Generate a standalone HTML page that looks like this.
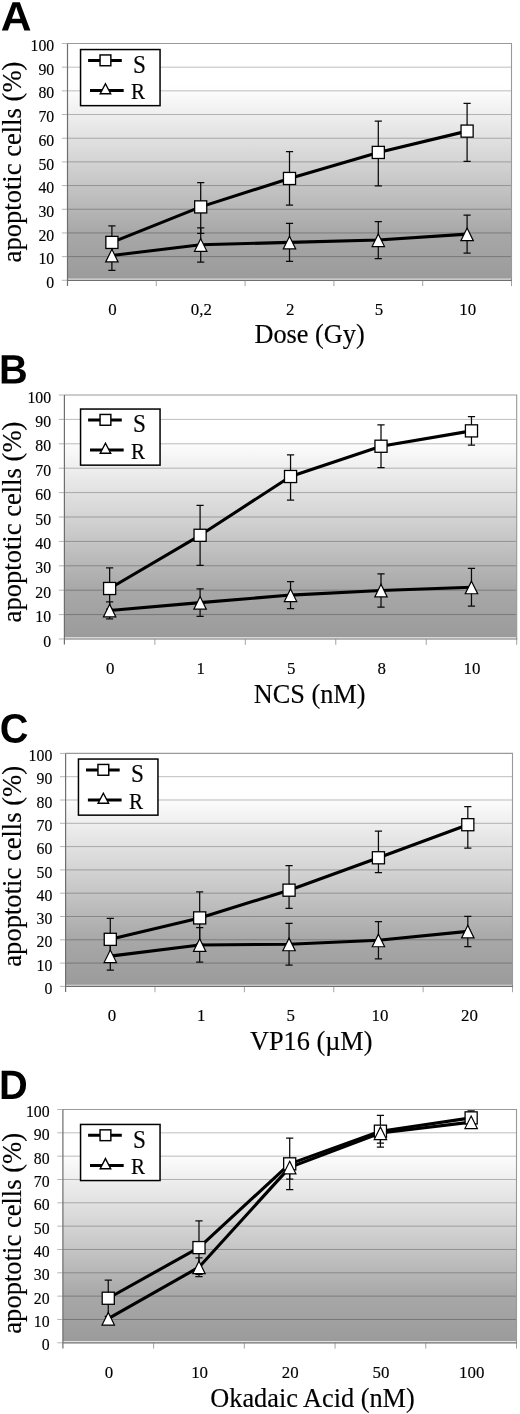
<!DOCTYPE html>
<html lang="en"><head><meta charset="utf-8"><title>Figure</title>
<style>html,body{margin:0;padding:0;background:#fff}svg{display:block}.t{font-family:'Liberation Serif', 'Times New Roman', serif;fill:#000;stroke:#000;stroke-width:0.15px}.b{font-family:'Liberation Sans', Arial, sans-serif;font-weight:bold;fill:#000}</style></head><body>
<svg width="520" height="1414" viewBox="0 0 520 1414">
<defs><linearGradient id="bg" x1="0" y1="0" x2="0" y2="1"><stop offset="0" stop-color="#ffffff"/><stop offset="0.18" stop-color="#ffffff"/><stop offset="0.5" stop-color="#d4d4d4"/><stop offset="0.8" stop-color="#a8a8a8"/><stop offset="1" stop-color="#9b9b9b"/></linearGradient></defs>
<rect width="520" height="1414" fill="#fff"/>
<g>
<text class="b" font-size="41" transform="translate(0.8 30.5) rotate(0.03) scale(1.04 1)">A</text>
<rect x="67.5" y="43.5" width="444" height="235.3" fill="url(#bg)"/>
<rect x="67.5" y="278.8" width="444" height="1.0" fill="#e4e4e4"/>
<line x1="67.5" y1="256.62" x2="511.5" y2="256.62" stroke="#000" stroke-opacity="0.26" stroke-width="1"/>
<line x1="67.5" y1="232.94" x2="511.5" y2="232.94" stroke="#000" stroke-opacity="0.26" stroke-width="1"/>
<line x1="67.5" y1="209.26" x2="511.5" y2="209.26" stroke="#000" stroke-opacity="0.26" stroke-width="1"/>
<line x1="67.5" y1="185.58" x2="511.5" y2="185.58" stroke="#000" stroke-opacity="0.26" stroke-width="1"/>
<line x1="67.5" y1="161.9" x2="511.5" y2="161.9" stroke="#000" stroke-opacity="0.26" stroke-width="1"/>
<line x1="67.5" y1="138.22" x2="511.5" y2="138.22" stroke="#000" stroke-opacity="0.26" stroke-width="1"/>
<line x1="67.5" y1="114.54" x2="511.5" y2="114.54" stroke="#000" stroke-opacity="0.26" stroke-width="1"/>
<line x1="67.5" y1="90.86" x2="511.5" y2="90.86" stroke="#000" stroke-opacity="0.26" stroke-width="1"/>
<line x1="67.5" y1="67.18" x2="511.5" y2="67.18" stroke="#000" stroke-opacity="0.26" stroke-width="1"/>
<path d="M67.5 43.5H511.5V280.3" fill="none" stroke="#999999" stroke-width="1.1"/>
<path d="M67.5 43.5V285.9M67.5 280.3H512" fill="none" stroke="#6e6e6e" stroke-width="1.2"/>
<line x1="61.9" y1="280.3" x2="67.5" y2="280.3" stroke="#838383" stroke-opacity="0.6" stroke-width="1"/>
<text class="t" font-size="17" text-anchor="end" transform="translate(54.2 287.9) scale(0.93 1)">0</text>
<line x1="61.9" y1="256.62" x2="67.5" y2="256.62" stroke="#838383" stroke-opacity="0.6" stroke-width="1"/>
<text class="t" font-size="17" text-anchor="end" transform="translate(54.2 264.22) scale(0.93 1)">10</text>
<line x1="61.9" y1="232.94" x2="67.5" y2="232.94" stroke="#838383" stroke-opacity="0.6" stroke-width="1"/>
<text class="t" font-size="17" text-anchor="end" transform="translate(54.2 240.54) scale(0.93 1)">20</text>
<line x1="61.9" y1="209.26" x2="67.5" y2="209.26" stroke="#838383" stroke-opacity="0.6" stroke-width="1"/>
<text class="t" font-size="17" text-anchor="end" transform="translate(54.2 216.86) scale(0.93 1)">30</text>
<line x1="61.9" y1="185.58" x2="67.5" y2="185.58" stroke="#838383" stroke-opacity="0.6" stroke-width="1"/>
<text class="t" font-size="17" text-anchor="end" transform="translate(54.2 193.18) scale(0.93 1)">40</text>
<line x1="61.9" y1="161.9" x2="67.5" y2="161.9" stroke="#838383" stroke-opacity="0.6" stroke-width="1"/>
<text class="t" font-size="17" text-anchor="end" transform="translate(54.2 169.5) scale(0.93 1)">50</text>
<line x1="61.9" y1="138.22" x2="67.5" y2="138.22" stroke="#838383" stroke-opacity="0.6" stroke-width="1"/>
<text class="t" font-size="17" text-anchor="end" transform="translate(54.2 145.82) scale(0.93 1)">60</text>
<line x1="61.9" y1="114.54" x2="67.5" y2="114.54" stroke="#838383" stroke-opacity="0.6" stroke-width="1"/>
<text class="t" font-size="17" text-anchor="end" transform="translate(54.2 122.14) scale(0.93 1)">70</text>
<line x1="61.9" y1="90.86" x2="67.5" y2="90.86" stroke="#838383" stroke-opacity="0.6" stroke-width="1"/>
<text class="t" font-size="17" text-anchor="end" transform="translate(54.2 98.46) scale(0.93 1)">80</text>
<line x1="61.9" y1="67.18" x2="67.5" y2="67.18" stroke="#838383" stroke-opacity="0.6" stroke-width="1"/>
<text class="t" font-size="17" text-anchor="end" transform="translate(54.2 74.78) scale(0.93 1)">90</text>
<line x1="61.9" y1="43.5" x2="67.5" y2="43.5" stroke="#838383" stroke-opacity="0.6" stroke-width="1"/>
<text class="t" font-size="17" text-anchor="end" transform="translate(54.2 51.1) scale(0.93 1)">100</text>
<line x1="156.3" y1="280.3" x2="156.3" y2="286.1" stroke="#838383" stroke-opacity="0.75" stroke-width="1"/>
<line x1="245.1" y1="280.3" x2="245.1" y2="286.1" stroke="#838383" stroke-opacity="0.75" stroke-width="1"/>
<line x1="333.9" y1="280.3" x2="333.9" y2="286.1" stroke="#838383" stroke-opacity="0.75" stroke-width="1"/>
<line x1="422.7" y1="280.3" x2="422.7" y2="286.1" stroke="#838383" stroke-opacity="0.75" stroke-width="1"/>
<line x1="511.5" y1="280.3" x2="511.5" y2="286.1" stroke="#838383" stroke-opacity="0.75" stroke-width="1"/>
<text class="t" font-size="17.6" text-anchor="middle" transform="translate(112.5 315) scale(0.96 1)">0</text>
<text class="t" font-size="17.6" text-anchor="middle" transform="translate(201.3 315) scale(0.96 1)">0,2</text>
<text class="t" font-size="17.6" text-anchor="middle" transform="translate(290.1 315) scale(0.96 1)">2</text>
<text class="t" font-size="17.6" text-anchor="middle" transform="translate(378.9 315) scale(0.96 1)">5</text>
<text class="t" font-size="17.6" text-anchor="middle" transform="translate(467.7 315) scale(0.96 1)">10</text>
<text class="t" x="309.6" y="342.5" font-size="26.3" text-anchor="middle">Dose (Gy)</text>
<text class="t" font-size="27.8" text-anchor="middle" transform="translate(21.3 162) rotate(-90) scale(0.957 1)">apoptotic cells (%)</text>
<path d="M111.9 225.84V258.99M108.3 225.84H115.5M108.3 258.99H115.5" stroke="#0a0a0a" stroke-width="1.25" fill="none"/>
<path d="M200.7 182.5V233.41M197.1 182.5H204.3M197.1 233.41H204.3" stroke="#0a0a0a" stroke-width="1.25" fill="none"/>
<path d="M289.5 151.72V205.23M285.9 151.72H293.1M285.9 205.23H293.1" stroke="#0a0a0a" stroke-width="1.25" fill="none"/>
<path d="M378.3 121.17V185.82M374.7 121.17H381.9M374.7 185.82H381.9" stroke="#0a0a0a" stroke-width="1.25" fill="none"/>
<path d="M467.1 103.41V161.43M463.5 103.41H470.7M463.5 161.43H470.7" stroke="#0a0a0a" stroke-width="1.25" fill="none"/>
<path d="M111.9 240.52V270.35M108.3 240.52H115.5M108.3 270.35H115.5" stroke="#0a0a0a" stroke-width="1.25" fill="none"/>
<path d="M200.7 227.97V262.18M197.1 227.97H204.3M197.1 262.18H204.3" stroke="#0a0a0a" stroke-width="1.25" fill="none"/>
<path d="M289.5 223.47V261.36M285.9 223.47H293.1M285.9 261.36H293.1" stroke="#0a0a0a" stroke-width="1.25" fill="none"/>
<path d="M378.3 221.57V258.51M374.7 221.57H381.9M374.7 258.51H381.9" stroke="#0a0a0a" stroke-width="1.25" fill="none"/>
<path d="M467.1 215.18V253.07M463.5 215.18H470.7M463.5 253.07H470.7" stroke="#0a0a0a" stroke-width="1.25" fill="none"/>
<polyline points="111.9,242.41 200.7,206.89 289.5,178.48 378.3,152.43 467.1,131.12" fill="none" stroke="#000" stroke-width="3.1" stroke-linejoin="round"/>
<polyline points="111.9,255.44 200.7,244.78 289.5,242.41 378.3,240.04 467.1,234.12" fill="none" stroke="#000" stroke-width="3.1" stroke-linejoin="round"/>
<rect x="105.85" y="236.36" width="12.1" height="12.1" fill="#fff" stroke="#000" stroke-width="1.3"/>
<rect x="194.65" y="200.84" width="12.1" height="12.1" fill="#fff" stroke="#000" stroke-width="1.3"/>
<rect x="283.45" y="172.43" width="12.1" height="12.1" fill="#fff" stroke="#000" stroke-width="1.3"/>
<rect x="372.25" y="146.38" width="12.1" height="12.1" fill="#fff" stroke="#000" stroke-width="1.3"/>
<rect x="461.05" y="125.07" width="12.1" height="12.1" fill="#fff" stroke="#000" stroke-width="1.3"/>
<polygon points="111.9,249.34 118.1,261.94 105.7,261.94" fill="#fff" stroke="#000" stroke-width="1.2"/>
<polygon points="200.7,238.68 206.9,251.28 194.5,251.28" fill="#fff" stroke="#000" stroke-width="1.2"/>
<polygon points="289.5,236.31 295.7,248.91 283.3,248.91" fill="#fff" stroke="#000" stroke-width="1.2"/>
<polygon points="378.3,233.94 384.5,246.54 372.1,246.54" fill="#fff" stroke="#000" stroke-width="1.2"/>
<polygon points="467.1,228.02 473.3,240.62 460.9,240.62" fill="#fff" stroke="#000" stroke-width="1.2"/>
<g transform="translate(79.8 48.8)">
<rect x="0.75" y="0.75" width="79.5" height="56.1" fill="#fff" stroke="#000" stroke-width="1.5"/>
<line x1="8.3" y1="11.6" x2="42" y2="11.6" stroke="#000" stroke-width="3"/>
<rect x="20.25" y="6.15" width="10.8" height="10.8" fill="#fff" stroke="#000" stroke-width="1.45"/>
<line x1="10.2" y1="41.8" x2="43.9" y2="41.8" stroke="#000" stroke-width="3"/>
<polygon points="25.65,34.9 30.9,45.0 20.4,45.0" fill="#fff" stroke="#000" stroke-width="1.4"/>
<text class="t" font-size="24.5" transform="translate(53.2 23.9) scale(0.95 1)">S</text>
<text class="t" font-size="23.7" transform="translate(51.2 50.2) scale(0.89 1)">R</text>
</g>
</g>
<g>
<text class="b" font-size="41" transform="translate(-1 383.6) rotate(0.03) scale(0.97 1)">B</text>
<rect x="64.4" y="395" width="452.3" height="242.5" fill="url(#bg)"/>
<rect x="64.4" y="637.5" width="452.3" height="1.0" fill="#e4e4e4"/>
<line x1="64.4" y1="614.6" x2="516.7" y2="614.6" stroke="#000" stroke-opacity="0.26" stroke-width="1"/>
<line x1="64.4" y1="590.2" x2="516.7" y2="590.2" stroke="#000" stroke-opacity="0.26" stroke-width="1"/>
<line x1="64.4" y1="565.8" x2="516.7" y2="565.8" stroke="#000" stroke-opacity="0.26" stroke-width="1"/>
<line x1="64.4" y1="541.4" x2="516.7" y2="541.4" stroke="#000" stroke-opacity="0.26" stroke-width="1"/>
<line x1="64.4" y1="517" x2="516.7" y2="517" stroke="#000" stroke-opacity="0.26" stroke-width="1"/>
<line x1="64.4" y1="492.6" x2="516.7" y2="492.6" stroke="#000" stroke-opacity="0.26" stroke-width="1"/>
<line x1="64.4" y1="468.2" x2="516.7" y2="468.2" stroke="#000" stroke-opacity="0.26" stroke-width="1"/>
<line x1="64.4" y1="443.8" x2="516.7" y2="443.8" stroke="#000" stroke-opacity="0.26" stroke-width="1"/>
<line x1="64.4" y1="419.4" x2="516.7" y2="419.4" stroke="#000" stroke-opacity="0.26" stroke-width="1"/>
<path d="M64.4 395H516.7V639" fill="none" stroke="#999999" stroke-width="1.1"/>
<path d="M64.4 395V644.6M64.4 639H517.2" fill="none" stroke="#6e6e6e" stroke-width="1.2"/>
<line x1="58.8" y1="639" x2="64.4" y2="639" stroke="#838383" stroke-opacity="0.6" stroke-width="1"/>
<text class="t" font-size="17" text-anchor="end" transform="translate(51.1 646.6) scale(0.93 1)">0</text>
<line x1="58.8" y1="614.6" x2="64.4" y2="614.6" stroke="#838383" stroke-opacity="0.6" stroke-width="1"/>
<text class="t" font-size="17" text-anchor="end" transform="translate(51.1 622.2) scale(0.93 1)">10</text>
<line x1="58.8" y1="590.2" x2="64.4" y2="590.2" stroke="#838383" stroke-opacity="0.6" stroke-width="1"/>
<text class="t" font-size="17" text-anchor="end" transform="translate(51.1 597.8) scale(0.93 1)">20</text>
<line x1="58.8" y1="565.8" x2="64.4" y2="565.8" stroke="#838383" stroke-opacity="0.6" stroke-width="1"/>
<text class="t" font-size="17" text-anchor="end" transform="translate(51.1 573.4) scale(0.93 1)">30</text>
<line x1="58.8" y1="541.4" x2="64.4" y2="541.4" stroke="#838383" stroke-opacity="0.6" stroke-width="1"/>
<text class="t" font-size="17" text-anchor="end" transform="translate(51.1 549) scale(0.93 1)">40</text>
<line x1="58.8" y1="517" x2="64.4" y2="517" stroke="#838383" stroke-opacity="0.6" stroke-width="1"/>
<text class="t" font-size="17" text-anchor="end" transform="translate(51.1 524.6) scale(0.93 1)">50</text>
<line x1="58.8" y1="492.6" x2="64.4" y2="492.6" stroke="#838383" stroke-opacity="0.6" stroke-width="1"/>
<text class="t" font-size="17" text-anchor="end" transform="translate(51.1 500.2) scale(0.93 1)">60</text>
<line x1="58.8" y1="468.2" x2="64.4" y2="468.2" stroke="#838383" stroke-opacity="0.6" stroke-width="1"/>
<text class="t" font-size="17" text-anchor="end" transform="translate(51.1 475.8) scale(0.93 1)">70</text>
<line x1="58.8" y1="443.8" x2="64.4" y2="443.8" stroke="#838383" stroke-opacity="0.6" stroke-width="1"/>
<text class="t" font-size="17" text-anchor="end" transform="translate(51.1 451.4) scale(0.93 1)">80</text>
<line x1="58.8" y1="419.4" x2="64.4" y2="419.4" stroke="#838383" stroke-opacity="0.6" stroke-width="1"/>
<text class="t" font-size="17" text-anchor="end" transform="translate(51.1 427) scale(0.93 1)">90</text>
<line x1="58.8" y1="395" x2="64.4" y2="395" stroke="#838383" stroke-opacity="0.6" stroke-width="1"/>
<text class="t" font-size="17" text-anchor="end" transform="translate(51.1 402.6) scale(0.93 1)">100</text>
<line x1="154.86" y1="639" x2="154.86" y2="644.8" stroke="#838383" stroke-opacity="0.75" stroke-width="1"/>
<line x1="245.32" y1="639" x2="245.32" y2="644.8" stroke="#838383" stroke-opacity="0.75" stroke-width="1"/>
<line x1="335.78" y1="639" x2="335.78" y2="644.8" stroke="#838383" stroke-opacity="0.75" stroke-width="1"/>
<line x1="426.24" y1="639" x2="426.24" y2="644.8" stroke="#838383" stroke-opacity="0.75" stroke-width="1"/>
<line x1="516.7" y1="639" x2="516.7" y2="644.8" stroke="#838383" stroke-opacity="0.75" stroke-width="1"/>
<text class="t" font-size="17.6" text-anchor="middle" transform="translate(110.23 674) scale(0.96 1)">0</text>
<text class="t" font-size="17.6" text-anchor="middle" transform="translate(200.69 674) scale(0.96 1)">1</text>
<text class="t" font-size="17.6" text-anchor="middle" transform="translate(291.15 674) scale(0.96 1)">5</text>
<text class="t" font-size="17.6" text-anchor="middle" transform="translate(381.61 674) scale(0.96 1)">8</text>
<text class="t" font-size="17.6" text-anchor="middle" transform="translate(472.07 674) scale(0.96 1)">10</text>
<text class="t" x="309.6" y="703.1" font-size="26.3" text-anchor="middle">NCS (nM)</text>
<text class="t" font-size="27.8" text-anchor="middle" transform="translate(21.3 522) rotate(-90) scale(0.957 1)">apoptotic cells (%)</text>
<path d="M109.63 567.75V609.23M106.03 567.75H113.23M106.03 609.23H113.23" stroke="#0a0a0a" stroke-width="1.25" fill="none"/>
<path d="M200.09 505.29V565.31M196.49 505.29H203.69M196.49 565.31H203.69" stroke="#0a0a0a" stroke-width="1.25" fill="none"/>
<path d="M290.55 454.78V500.16M286.95 454.78H294.15M286.95 500.16H294.15" stroke="#0a0a0a" stroke-width="1.25" fill="none"/>
<path d="M381.01 424.77V467.71M377.41 424.77H384.61M377.41 467.71H384.61" stroke="#0a0a0a" stroke-width="1.25" fill="none"/>
<path d="M471.47 416.72V445.02M467.87 416.72H475.07M467.87 445.02H475.07" stroke="#0a0a0a" stroke-width="1.25" fill="none"/>
<path d="M109.63 601.91V618.99M106.03 601.91H113.23M106.03 618.99H113.23" stroke="#0a0a0a" stroke-width="1.25" fill="none"/>
<path d="M200.09 588.98V616.31M196.49 588.98H203.69M196.49 616.31H203.69" stroke="#0a0a0a" stroke-width="1.25" fill="none"/>
<path d="M290.55 581.66V608.5M286.95 581.66H294.15M286.95 608.5H294.15" stroke="#0a0a0a" stroke-width="1.25" fill="none"/>
<path d="M381.01 573.85V607.04M377.41 573.85H384.61M377.41 607.04H384.61" stroke="#0a0a0a" stroke-width="1.25" fill="none"/>
<path d="M471.47 568.48V606.06M467.87 568.48H475.07M467.87 606.06H475.07" stroke="#0a0a0a" stroke-width="1.25" fill="none"/>
<polyline points="109.63,588.49 200.09,535.3 290.55,476.5 381.01,446.24 471.47,430.87" fill="none" stroke="#000" stroke-width="3.1" stroke-linejoin="round"/>
<polyline points="109.63,610.45 200.09,602.64 290.55,595.08 381.01,590.44 471.47,587.27" fill="none" stroke="#000" stroke-width="3.1" stroke-linejoin="round"/>
<rect x="103.58" y="582.44" width="12.1" height="12.1" fill="#fff" stroke="#000" stroke-width="1.3"/>
<rect x="194.04" y="529.25" width="12.1" height="12.1" fill="#fff" stroke="#000" stroke-width="1.3"/>
<rect x="284.5" y="470.45" width="12.1" height="12.1" fill="#fff" stroke="#000" stroke-width="1.3"/>
<rect x="374.96" y="440.19" width="12.1" height="12.1" fill="#fff" stroke="#000" stroke-width="1.3"/>
<rect x="465.42" y="424.82" width="12.1" height="12.1" fill="#fff" stroke="#000" stroke-width="1.3"/>
<polygon points="109.63,604.35 115.83,616.95 103.43,616.95" fill="#fff" stroke="#000" stroke-width="1.2"/>
<polygon points="200.09,596.54 206.29,609.14 193.89,609.14" fill="#fff" stroke="#000" stroke-width="1.2"/>
<polygon points="290.55,588.98 296.75,601.58 284.35,601.58" fill="#fff" stroke="#000" stroke-width="1.2"/>
<polygon points="381.01,584.34 387.21,596.94 374.81,596.94" fill="#fff" stroke="#000" stroke-width="1.2"/>
<polygon points="471.47,581.17 477.67,593.77 465.27,593.77" fill="#fff" stroke="#000" stroke-width="1.2"/>
<g transform="translate(79.8 408.3)">
<rect x="0.75" y="0.75" width="79.5" height="56.1" fill="#fff" stroke="#000" stroke-width="1.5"/>
<line x1="8.3" y1="11.6" x2="42" y2="11.6" stroke="#000" stroke-width="3"/>
<rect x="20.25" y="6.15" width="10.8" height="10.8" fill="#fff" stroke="#000" stroke-width="1.45"/>
<line x1="10.2" y1="41.8" x2="43.9" y2="41.8" stroke="#000" stroke-width="3"/>
<polygon points="25.65,34.9 30.9,45.0 20.4,45.0" fill="#fff" stroke="#000" stroke-width="1.4"/>
<text class="t" font-size="24.5" transform="translate(53.2 23.9) scale(0.95 1)">S</text>
<text class="t" font-size="23.7" transform="translate(51.2 50.2) scale(0.89 1)">R</text>
</g>
</g>
<g>
<text class="b" font-size="41" transform="translate(-0.2 742.5) rotate(0.03) scale(0.97 1)">C</text>
<rect x="65.6" y="753.4" width="446.9" height="231.5" fill="url(#bg)"/>
<rect x="65.6" y="984.9" width="446.9" height="1.0" fill="#e4e4e4"/>
<line x1="65.6" y1="963.1" x2="512.5" y2="963.1" stroke="#000" stroke-opacity="0.26" stroke-width="1"/>
<line x1="65.6" y1="939.8" x2="512.5" y2="939.8" stroke="#000" stroke-opacity="0.26" stroke-width="1"/>
<line x1="65.6" y1="916.5" x2="512.5" y2="916.5" stroke="#000" stroke-opacity="0.26" stroke-width="1"/>
<line x1="65.6" y1="893.2" x2="512.5" y2="893.2" stroke="#000" stroke-opacity="0.26" stroke-width="1"/>
<line x1="65.6" y1="869.9" x2="512.5" y2="869.9" stroke="#000" stroke-opacity="0.26" stroke-width="1"/>
<line x1="65.6" y1="846.6" x2="512.5" y2="846.6" stroke="#000" stroke-opacity="0.26" stroke-width="1"/>
<line x1="65.6" y1="823.3" x2="512.5" y2="823.3" stroke="#000" stroke-opacity="0.26" stroke-width="1"/>
<line x1="65.6" y1="800" x2="512.5" y2="800" stroke="#000" stroke-opacity="0.26" stroke-width="1"/>
<line x1="65.6" y1="776.7" x2="512.5" y2="776.7" stroke="#000" stroke-opacity="0.26" stroke-width="1"/>
<path d="M65.6 753.4H512.5V986.4" fill="none" stroke="#999999" stroke-width="1.1"/>
<path d="M65.6 753.4V992M65.6 986.4H513" fill="none" stroke="#6e6e6e" stroke-width="1.2"/>
<line x1="60" y1="986.4" x2="65.6" y2="986.4" stroke="#838383" stroke-opacity="0.6" stroke-width="1"/>
<text class="t" font-size="17" text-anchor="end" transform="translate(52.3 994) scale(0.93 1)">0</text>
<line x1="60" y1="963.1" x2="65.6" y2="963.1" stroke="#838383" stroke-opacity="0.6" stroke-width="1"/>
<text class="t" font-size="17" text-anchor="end" transform="translate(52.3 970.7) scale(0.93 1)">10</text>
<line x1="60" y1="939.8" x2="65.6" y2="939.8" stroke="#838383" stroke-opacity="0.6" stroke-width="1"/>
<text class="t" font-size="17" text-anchor="end" transform="translate(52.3 947.4) scale(0.93 1)">20</text>
<line x1="60" y1="916.5" x2="65.6" y2="916.5" stroke="#838383" stroke-opacity="0.6" stroke-width="1"/>
<text class="t" font-size="17" text-anchor="end" transform="translate(52.3 924.1) scale(0.93 1)">30</text>
<line x1="60" y1="893.2" x2="65.6" y2="893.2" stroke="#838383" stroke-opacity="0.6" stroke-width="1"/>
<text class="t" font-size="17" text-anchor="end" transform="translate(52.3 900.8) scale(0.93 1)">40</text>
<line x1="60" y1="869.9" x2="65.6" y2="869.9" stroke="#838383" stroke-opacity="0.6" stroke-width="1"/>
<text class="t" font-size="17" text-anchor="end" transform="translate(52.3 877.5) scale(0.93 1)">50</text>
<line x1="60" y1="846.6" x2="65.6" y2="846.6" stroke="#838383" stroke-opacity="0.6" stroke-width="1"/>
<text class="t" font-size="17" text-anchor="end" transform="translate(52.3 854.2) scale(0.93 1)">60</text>
<line x1="60" y1="823.3" x2="65.6" y2="823.3" stroke="#838383" stroke-opacity="0.6" stroke-width="1"/>
<text class="t" font-size="17" text-anchor="end" transform="translate(52.3 830.9) scale(0.93 1)">70</text>
<line x1="60" y1="800" x2="65.6" y2="800" stroke="#838383" stroke-opacity="0.6" stroke-width="1"/>
<text class="t" font-size="17" text-anchor="end" transform="translate(52.3 807.6) scale(0.93 1)">80</text>
<line x1="60" y1="776.7" x2="65.6" y2="776.7" stroke="#838383" stroke-opacity="0.6" stroke-width="1"/>
<text class="t" font-size="17" text-anchor="end" transform="translate(52.3 784.3) scale(0.93 1)">90</text>
<line x1="60" y1="753.4" x2="65.6" y2="753.4" stroke="#838383" stroke-opacity="0.6" stroke-width="1"/>
<text class="t" font-size="17" text-anchor="end" transform="translate(52.3 761) scale(0.93 1)">100</text>
<line x1="154.98" y1="986.4" x2="154.98" y2="992.2" stroke="#838383" stroke-opacity="0.75" stroke-width="1"/>
<line x1="244.36" y1="986.4" x2="244.36" y2="992.2" stroke="#838383" stroke-opacity="0.75" stroke-width="1"/>
<line x1="333.74" y1="986.4" x2="333.74" y2="992.2" stroke="#838383" stroke-opacity="0.75" stroke-width="1"/>
<line x1="423.12" y1="986.4" x2="423.12" y2="992.2" stroke="#838383" stroke-opacity="0.75" stroke-width="1"/>
<line x1="512.5" y1="986.4" x2="512.5" y2="992.2" stroke="#838383" stroke-opacity="0.75" stroke-width="1"/>
<text class="t" font-size="17.6" text-anchor="middle" transform="translate(111.89 1020.5) scale(0.96 1)">0</text>
<text class="t" font-size="17.6" text-anchor="middle" transform="translate(201.27 1020.5) scale(0.96 1)">1</text>
<text class="t" font-size="17.6" text-anchor="middle" transform="translate(290.65 1020.5) scale(0.96 1)">5</text>
<text class="t" font-size="17.6" text-anchor="middle" transform="translate(380.03 1020.5) scale(0.96 1)">10</text>
<text class="t" font-size="17.6" text-anchor="middle" transform="translate(469.41 1020.5) scale(0.96 1)">20</text>
<text class="t" x="311.2" y="1049.6" font-size="26.3" text-anchor="middle">VP16 (µM)</text>
<text class="t" font-size="27.8" text-anchor="middle" transform="translate(21.3 866.3) rotate(-90) scale(0.957 1)">apoptotic cells (%)</text>
<path d="M110.29 918.36V960.3M106.69 918.36H113.89M106.69 960.3H113.89" stroke="#0a0a0a" stroke-width="1.25" fill="none"/>
<path d="M199.67 891.8V943.99M196.07 891.8H203.27M196.07 943.99H203.27" stroke="#0a0a0a" stroke-width="1.25" fill="none"/>
<path d="M289.05 865.71V908.35M285.45 865.71H292.65M285.45 908.35H292.65" stroke="#0a0a0a" stroke-width="1.25" fill="none"/>
<path d="M378.43 831.22V872.7M374.83 831.22H382.03M374.83 872.7H382.03" stroke="#0a0a0a" stroke-width="1.25" fill="none"/>
<path d="M467.81 806.52V848M464.21 806.52H471.41M464.21 848H471.41" stroke="#0a0a0a" stroke-width="1.25" fill="none"/>
<path d="M110.29 942.13V970.09M106.69 942.13H113.89M106.69 970.09H113.89" stroke="#0a0a0a" stroke-width="1.25" fill="none"/>
<path d="M199.67 927.68V962.17M196.07 927.68H203.27M196.07 962.17H203.27" stroke="#0a0a0a" stroke-width="1.25" fill="none"/>
<path d="M289.05 923.26V965.2M285.45 923.26H292.65M285.45 965.2H292.65" stroke="#0a0a0a" stroke-width="1.25" fill="none"/>
<path d="M378.43 921.63V958.91M374.83 921.63H382.03M374.83 958.91H382.03" stroke="#0a0a0a" stroke-width="1.25" fill="none"/>
<path d="M467.81 916.27V946.56M464.21 916.27H471.41M464.21 946.56H471.41" stroke="#0a0a0a" stroke-width="1.25" fill="none"/>
<polyline points="110.29,939.33 199.67,917.9 289.05,890.17 378.43,857.78 467.81,824.7" fill="none" stroke="#000" stroke-width="3.1" stroke-linejoin="round"/>
<polyline points="110.29,956.11 199.67,944.93 289.05,944.23 378.43,940.27 467.81,931.41" fill="none" stroke="#000" stroke-width="3.1" stroke-linejoin="round"/>
<rect x="104.24" y="933.28" width="12.1" height="12.1" fill="#fff" stroke="#000" stroke-width="1.3"/>
<rect x="193.62" y="911.85" width="12.1" height="12.1" fill="#fff" stroke="#000" stroke-width="1.3"/>
<rect x="283" y="884.12" width="12.1" height="12.1" fill="#fff" stroke="#000" stroke-width="1.3"/>
<rect x="372.38" y="851.73" width="12.1" height="12.1" fill="#fff" stroke="#000" stroke-width="1.3"/>
<rect x="461.76" y="818.65" width="12.1" height="12.1" fill="#fff" stroke="#000" stroke-width="1.3"/>
<polygon points="110.29,950.01 116.49,962.61 104.09,962.61" fill="#fff" stroke="#000" stroke-width="1.2"/>
<polygon points="199.67,938.83 205.87,951.43 193.47,951.43" fill="#fff" stroke="#000" stroke-width="1.2"/>
<polygon points="289.05,938.13 295.25,950.73 282.85,950.73" fill="#fff" stroke="#000" stroke-width="1.2"/>
<polygon points="378.43,934.17 384.63,946.77 372.23,946.77" fill="#fff" stroke="#000" stroke-width="1.2"/>
<polygon points="467.81,925.31 474.01,937.91 461.61,937.91" fill="#fff" stroke="#000" stroke-width="1.2"/>
<g transform="translate(77.7 758.3)">
<rect x="0.75" y="0.75" width="79.5" height="56.1" fill="#fff" stroke="#000" stroke-width="1.5"/>
<line x1="8.3" y1="11.6" x2="42" y2="11.6" stroke="#000" stroke-width="3"/>
<rect x="20.25" y="6.15" width="10.8" height="10.8" fill="#fff" stroke="#000" stroke-width="1.45"/>
<line x1="10.2" y1="41.8" x2="43.9" y2="41.8" stroke="#000" stroke-width="3"/>
<polygon points="25.65,34.9 30.9,45.0 20.4,45.0" fill="#fff" stroke="#000" stroke-width="1.4"/>
<text class="t" font-size="24.5" transform="translate(53.2 23.9) scale(0.95 1)">S</text>
<text class="t" font-size="23.7" transform="translate(51.2 50.2) scale(0.89 1)">R</text>
</g>
</g>
<g>
<text class="b" font-size="41" transform="translate(-1 1099) rotate(0.03) scale(0.97 1)">D</text>
<rect x="62.9" y="1109.5" width="453.6" height="231.8" fill="url(#bg)"/>
<rect x="62.9" y="1341.3" width="453.6" height="1.0" fill="#e4e4e4"/>
<line x1="62.9" y1="1319.47" x2="516.5" y2="1319.47" stroke="#000" stroke-opacity="0.26" stroke-width="1"/>
<line x1="62.9" y1="1296.14" x2="516.5" y2="1296.14" stroke="#000" stroke-opacity="0.26" stroke-width="1"/>
<line x1="62.9" y1="1272.81" x2="516.5" y2="1272.81" stroke="#000" stroke-opacity="0.26" stroke-width="1"/>
<line x1="62.9" y1="1249.48" x2="516.5" y2="1249.48" stroke="#000" stroke-opacity="0.26" stroke-width="1"/>
<line x1="62.9" y1="1226.15" x2="516.5" y2="1226.15" stroke="#000" stroke-opacity="0.26" stroke-width="1"/>
<line x1="62.9" y1="1202.82" x2="516.5" y2="1202.82" stroke="#000" stroke-opacity="0.26" stroke-width="1"/>
<line x1="62.9" y1="1179.49" x2="516.5" y2="1179.49" stroke="#000" stroke-opacity="0.26" stroke-width="1"/>
<line x1="62.9" y1="1156.16" x2="516.5" y2="1156.16" stroke="#000" stroke-opacity="0.26" stroke-width="1"/>
<line x1="62.9" y1="1132.83" x2="516.5" y2="1132.83" stroke="#000" stroke-opacity="0.26" stroke-width="1"/>
<path d="M62.9 1109.5H516.5V1342.8" fill="none" stroke="#999999" stroke-width="1.1"/>
<path d="M62.9 1109.5V1348.4M62.9 1342.8H517" fill="none" stroke="#6e6e6e" stroke-width="1.2"/>
<line x1="57.3" y1="1342.8" x2="62.9" y2="1342.8" stroke="#838383" stroke-opacity="0.6" stroke-width="1"/>
<text class="t" font-size="17" text-anchor="end" transform="translate(49.6 1350.4) scale(0.93 1)">0</text>
<line x1="57.3" y1="1319.47" x2="62.9" y2="1319.47" stroke="#838383" stroke-opacity="0.6" stroke-width="1"/>
<text class="t" font-size="17" text-anchor="end" transform="translate(49.6 1327.07) scale(0.93 1)">10</text>
<line x1="57.3" y1="1296.14" x2="62.9" y2="1296.14" stroke="#838383" stroke-opacity="0.6" stroke-width="1"/>
<text class="t" font-size="17" text-anchor="end" transform="translate(49.6 1303.74) scale(0.93 1)">20</text>
<line x1="57.3" y1="1272.81" x2="62.9" y2="1272.81" stroke="#838383" stroke-opacity="0.6" stroke-width="1"/>
<text class="t" font-size="17" text-anchor="end" transform="translate(49.6 1280.41) scale(0.93 1)">30</text>
<line x1="57.3" y1="1249.48" x2="62.9" y2="1249.48" stroke="#838383" stroke-opacity="0.6" stroke-width="1"/>
<text class="t" font-size="17" text-anchor="end" transform="translate(49.6 1257.08) scale(0.93 1)">40</text>
<line x1="57.3" y1="1226.15" x2="62.9" y2="1226.15" stroke="#838383" stroke-opacity="0.6" stroke-width="1"/>
<text class="t" font-size="17" text-anchor="end" transform="translate(49.6 1233.75) scale(0.93 1)">50</text>
<line x1="57.3" y1="1202.82" x2="62.9" y2="1202.82" stroke="#838383" stroke-opacity="0.6" stroke-width="1"/>
<text class="t" font-size="17" text-anchor="end" transform="translate(49.6 1210.42) scale(0.93 1)">60</text>
<line x1="57.3" y1="1179.49" x2="62.9" y2="1179.49" stroke="#838383" stroke-opacity="0.6" stroke-width="1"/>
<text class="t" font-size="17" text-anchor="end" transform="translate(49.6 1187.09) scale(0.93 1)">70</text>
<line x1="57.3" y1="1156.16" x2="62.9" y2="1156.16" stroke="#838383" stroke-opacity="0.6" stroke-width="1"/>
<text class="t" font-size="17" text-anchor="end" transform="translate(49.6 1163.76) scale(0.93 1)">80</text>
<line x1="57.3" y1="1132.83" x2="62.9" y2="1132.83" stroke="#838383" stroke-opacity="0.6" stroke-width="1"/>
<text class="t" font-size="17" text-anchor="end" transform="translate(49.6 1140.43) scale(0.93 1)">90</text>
<line x1="57.3" y1="1109.5" x2="62.9" y2="1109.5" stroke="#838383" stroke-opacity="0.6" stroke-width="1"/>
<text class="t" font-size="17" text-anchor="end" transform="translate(49.6 1117.1) scale(0.93 1)">100</text>
<line x1="153.62" y1="1342.8" x2="153.62" y2="1348.6" stroke="#838383" stroke-opacity="0.75" stroke-width="1"/>
<line x1="244.34" y1="1342.8" x2="244.34" y2="1348.6" stroke="#838383" stroke-opacity="0.75" stroke-width="1"/>
<line x1="335.06" y1="1342.8" x2="335.06" y2="1348.6" stroke="#838383" stroke-opacity="0.75" stroke-width="1"/>
<line x1="425.78" y1="1342.8" x2="425.78" y2="1348.6" stroke="#838383" stroke-opacity="0.75" stroke-width="1"/>
<line x1="516.5" y1="1342.8" x2="516.5" y2="1348.6" stroke="#838383" stroke-opacity="0.75" stroke-width="1"/>
<text class="t" font-size="17.6" text-anchor="middle" transform="translate(108.86 1378) scale(0.96 1)">0</text>
<text class="t" font-size="17.6" text-anchor="middle" transform="translate(199.58 1378) scale(0.96 1)">10</text>
<text class="t" font-size="17.6" text-anchor="middle" transform="translate(290.3 1378) scale(0.96 1)">20</text>
<text class="t" font-size="17.6" text-anchor="middle" transform="translate(381.02 1378) scale(0.96 1)">50</text>
<text class="t" font-size="17.6" text-anchor="middle" transform="translate(471.74 1378) scale(0.96 1)">100</text>
<text class="t" x="312.5" y="1406.5" font-size="26.3" text-anchor="middle">Okadaic Acid (nM)</text>
<text class="t" font-size="27.8" text-anchor="middle" transform="translate(21.3 1233.3) rotate(-90) scale(0.957 1)">apoptotic cells (%)</text>
<path d="M108.26 1280.04V1316.44M104.66 1280.04H111.86M104.66 1316.44H111.86" stroke="#0a0a0a" stroke-width="1.25" fill="none"/>
<path d="M198.98 1220.78V1274.44M195.38 1220.78H202.58M195.38 1274.44H202.58" stroke="#0a0a0a" stroke-width="1.25" fill="none"/>
<path d="M289.7 1138.2V1189.52M286.1 1138.2H293.3M286.1 1189.52H293.3" stroke="#0a0a0a" stroke-width="1.25" fill="none"/>
<path d="M380.42 1115.33V1147.06M376.82 1115.33H384.02M376.82 1147.06H384.02" stroke="#0a0a0a" stroke-width="1.25" fill="none"/>
<path d="M471.14 1110.9V1124.9M467.54 1110.9H474.74M467.54 1124.9H474.74" stroke="#0a0a0a" stroke-width="1.25" fill="none"/>
<path d="M198.98 1257.88V1276.54M195.38 1257.88H202.58M195.38 1276.54H202.58" stroke="#0a0a0a" stroke-width="1.25" fill="none"/>
<path d="M289.7 1160.36V1179.02M286.1 1160.36H293.3M286.1 1179.02H293.3" stroke="#0a0a0a" stroke-width="1.25" fill="none"/>
<path d="M380.42 1128.4V1143.1M376.82 1128.4H384.02M376.82 1143.1H384.02" stroke="#0a0a0a" stroke-width="1.25" fill="none"/>
<path d="M471.14 1118.6V1125.6M467.54 1118.6H474.74M467.54 1125.6H474.74" stroke="#0a0a0a" stroke-width="1.25" fill="none"/>
<polyline points="108.26,1298.24 198.98,1247.61 289.7,1163.86 380.42,1131.2 471.14,1117.9" fill="none" stroke="#000" stroke-width="3.1" stroke-linejoin="round"/>
<polyline points="108.26,1318.54 198.98,1267.21 289.7,1167.36 380.42,1133.06 471.14,1122.1" fill="none" stroke="#000" stroke-width="3.1" stroke-linejoin="round"/>
<rect x="102.21" y="1292.19" width="12.1" height="12.1" fill="#fff" stroke="#000" stroke-width="1.3"/>
<rect x="192.93" y="1241.56" width="12.1" height="12.1" fill="#fff" stroke="#000" stroke-width="1.3"/>
<rect x="283.65" y="1157.81" width="12.1" height="12.1" fill="#fff" stroke="#000" stroke-width="1.3"/>
<rect x="374.37" y="1125.15" width="12.1" height="12.1" fill="#fff" stroke="#000" stroke-width="1.3"/>
<rect x="465.09" y="1111.85" width="12.1" height="12.1" fill="#fff" stroke="#000" stroke-width="1.3"/>
<polygon points="108.26,1312.44 114.46,1325.04 102.06,1325.04" fill="#fff" stroke="#000" stroke-width="1.2"/>
<polygon points="198.98,1261.11 205.18,1273.71 192.78,1273.71" fill="#fff" stroke="#000" stroke-width="1.2"/>
<polygon points="289.7,1161.26 295.9,1173.86 283.5,1173.86" fill="#fff" stroke="#000" stroke-width="1.2"/>
<polygon points="380.42,1126.96 386.62,1139.56 374.22,1139.56" fill="#fff" stroke="#000" stroke-width="1.2"/>
<polygon points="471.14,1116 477.34,1128.6 464.94,1128.6" fill="#fff" stroke="#000" stroke-width="1.2"/>
<g transform="translate(79.8 1123.7)">
<rect x="0.75" y="0.75" width="79.5" height="56.1" fill="#fff" stroke="#000" stroke-width="1.5"/>
<line x1="8.3" y1="11.6" x2="42" y2="11.6" stroke="#000" stroke-width="3"/>
<rect x="20.25" y="6.15" width="10.8" height="10.8" fill="#fff" stroke="#000" stroke-width="1.45"/>
<line x1="10.2" y1="41.8" x2="43.9" y2="41.8" stroke="#000" stroke-width="3"/>
<polygon points="25.65,34.9 30.9,45.0 20.4,45.0" fill="#fff" stroke="#000" stroke-width="1.4"/>
<text class="t" font-size="24.5" transform="translate(53.2 23.9) scale(0.95 1)">S</text>
<text class="t" font-size="23.7" transform="translate(51.2 50.2) scale(0.89 1)">R</text>
</g>
</g>
</svg></body></html>
